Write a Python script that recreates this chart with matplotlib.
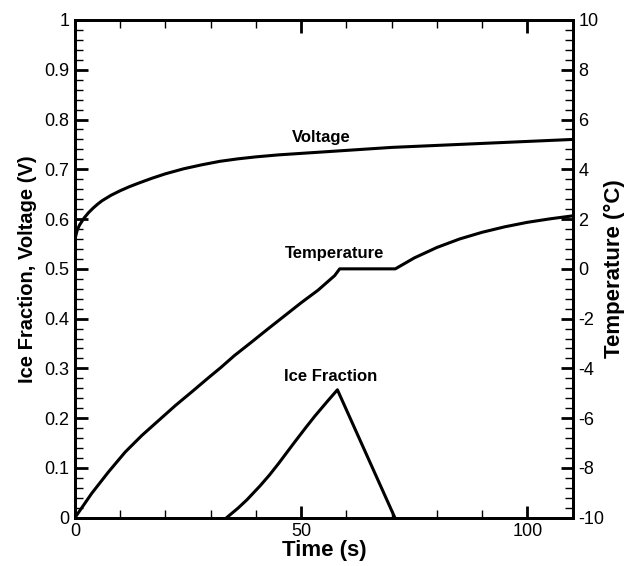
import matplotlib.pyplot as plt
import numpy as np
from matplotlib.ticker import MultipleLocator, FormatStrFormatter

plt.rcParams['font.family'] = ['Liberation Sans', 'DejaVu Sans']
plt.rcParams['axes.unicode_minus'] = False

# data
t_volt = [0, 0.5, 1, 2, 3, 4, 5, 6, 8, 10, 12, 14, 17, 20, 24, 28, 32, 36, 40,
          45, 50, 55, 60, 65, 70, 75, 80, 90, 100, 110]
voltage = [0.560, 0.578, 0.588, 0.602, 0.613, 0.622, 0.630, 0.637, 0.648, 0.657,
           0.665, 0.672, 0.682, 0.691, 0.701, 0.709, 0.716, 0.721, 0.725,
           0.729, 0.732, 0.735, 0.738, 0.741, 0.744, 0.746, 0.748, 0.752, 0.756, 0.760]

t_temp = [0, 0.4, 3.7, 7.4, 11.1, 14.8, 18.5, 22.2, 25.9, 29.6, 32.2, 35.2, 38.9,
          42.6, 46.3, 50, 53.7, 57.4, 58.5, 70.8, 75, 80, 85, 90, 95, 100, 105, 110]
temperature = [-10, -9.89, -9.02, -8.16, -7.36, -6.69, -6.09, -5.49, -4.93, -4.36,
               -3.97, -3.49, -2.96, -2.42, -1.89, -1.36, -0.86, -0.27, 0, 0,
               0.44, 0.86, 1.2, 1.47, 1.69, 1.87, 2.01, 2.13]

t_ice = [33.5, 36, 38, 40.9, 43, 45, 48.3, 51, 53, 55.7, 58, 70.7]
ice_fraction = [0, 0.019, 0.036, 0.064, 0.086, 0.109, 0.149, 0.181, 0.204, 0.233, 0.257, 0]

labels = ['Voltage', 'Temperature', 'Ice Fraction']
label_pos = [(54.5, 0.763), (57.3, 0.530), (56.4, 0.283)]

fig = plt.figure(figsize=(6.25, 5.66), dpi=100)
ax = fig.add_axes([0.12, 0.0853, 0.7963, 0.8794])
ax2 = ax.twinx()

lw = 2.2
ax.plot(t_volt, voltage, color='black', lw=lw)
ax.plot(t_ice, ice_fraction, color='black', lw=lw)
ax2.plot(t_temp, temperature, color='black', lw=lw)

for txt, (x, y) in zip(labels, label_pos):
    ax.text(x, y, txt, ha='center', va='center', fontsize=12, fontweight='bold')

ax.set_xlim(0, 110)
ax.set_ylim(0, 1)
ax2.set_ylim(-10, 10)

ax.xaxis.set_major_locator(MultipleLocator(50))
ax.xaxis.set_minor_locator(MultipleLocator(10))
ax.yaxis.set_major_locator(MultipleLocator(0.1))
ax.yaxis.set_minor_locator(MultipleLocator(0.02))
ax.yaxis.set_major_formatter(FormatStrFormatter('%g'))
ax2.yaxis.set_major_locator(MultipleLocator(2))
ax2.yaxis.set_minor_locator(MultipleLocator(0.4))
ax2.yaxis.set_major_formatter(FormatStrFormatter('%g'))

ax.tick_params(axis='x', which='both', direction='in', top=True, labelsize=13, pad=4)
ax.tick_params(axis='y', which='both', direction='in', right=False, labelsize=13, pad=4)
ax2.tick_params(axis='y', which='both', direction='in', labelsize=13, pad=4)
for a in (ax, ax2):
    a.tick_params(which='major', length=9, width=2)
    a.tick_params(which='minor', length=5.5, width=1)
    for s in a.spines.values():
        s.set_linewidth(2)

ax.set_xlabel('Time (s)', fontsize=16, fontweight='bold', labelpad=0)
ax.set_ylabel('Ice Fraction, Voltage (V)', fontsize=14.5, fontweight='bold', labelpad=5)
ax2.set_ylabel('Temperature (\u00b0C)', fontsize=16, fontweight='bold', labelpad=0)

fig.savefig('out.png', dpi=100)
